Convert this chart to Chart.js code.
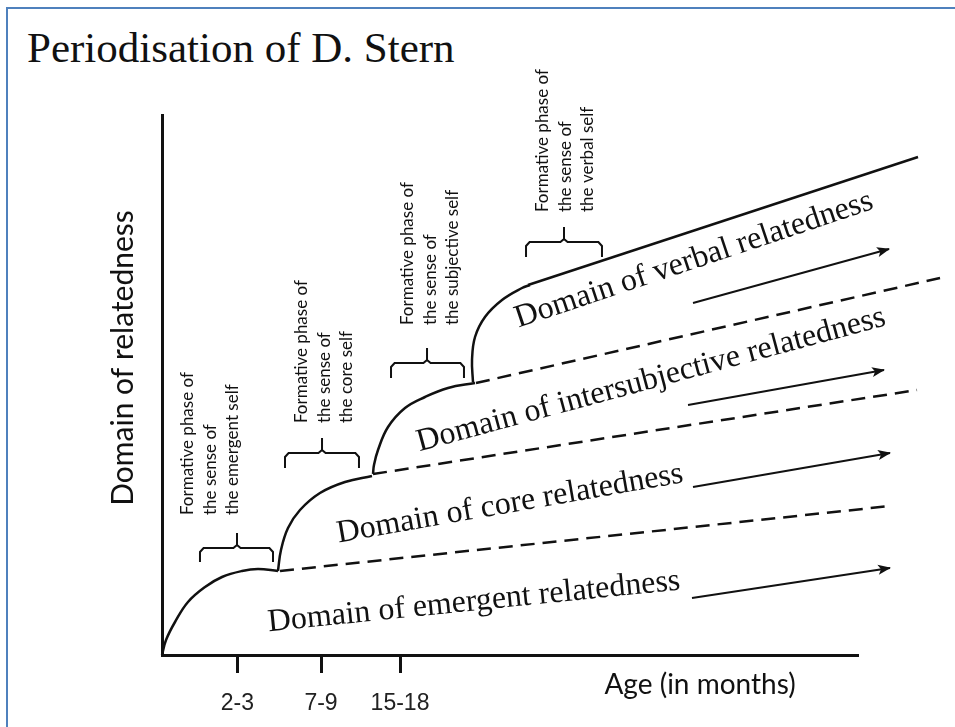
<!DOCTYPE html>
<html lang="en">
<head>
<meta charset="UTF-8">
<title>Periodisation of D. Stern</title>
<script src="https://cdn.jsdelivr.net/npm/chart.js"></script>
<style>
    body { margin: 0; background: #fff; }
    .frame {
        position: absolute; left: 6px; top: 7px; right: 0; bottom: 0;
        border-left: 2px solid #4f81bd; border-top: 2px solid #4f81bd;
    }
    h1 {
        position: absolute; left: 27px; top: 26px; margin: 0;
        font-family: 'Liberation Serif', serif; font-weight: normal;
        font-size: 43px; line-height: 1; color: #111;
    }
    canvas { position: absolute; left: 0; top: 0; }
</style>
</head>
<body>
<div class="frame"></div>
<h1>Periodisation of D. Stern</h1>
<canvas id="stern" width="955" height="727"></canvas>

<script>
// x = position on the age axis (0-116), y = level of relatedness (0-108)
const ageTicks = [12.55, 26.5, 39.67];
const ageLabels = ['2-3', '7-9', '15-18'];

// formative curves (solid)
const emergentCurve = [[0, 0], [0.67, 3], [2.17, 6.6], [4.33, 10.6], [7.17, 13.6], [10, 15.6], [13.33, 16.8], [16, 17.2], [19.33, 16.8]];
const coreCurve = [[19.33, 16.8], [19.83, 21], [21, 25.4], [23, 29], [26.33, 32.4], [30.5, 34.6], [35, 35.8]];
const subjectiveCurve = [[35.17, 36.2], [35.33, 38], [36, 41], [37.67, 45.6], [40.5, 49.4], [43.83, 51.6], [47.67, 53.4], [52.17, 54.4]];
const verbalCurve = [[51.83, 54.6], [51.67, 59], [52.17, 63.6], [53.83, 67.6], [56.67, 71], [60, 73.4], [61.33, 74]];
const verbalLine = [[61, 74], [126, 99.6]];

// continuing domains (dashed)
const emergentDash = [[19.67, 16.8], [121.33, 29.8]];
const coreDash = [[35.17, 36.2], [125.83, 53]];
const subjectiveDash = [[52.33, 54.4], [129.67, 75.4]];

// arrows: tail, tip
const arrows = [
    [[88.33, 11.4], [121.33, 17.4]],
    [[88.5, 33.6], [121.33, 40.4]],
    [[87.67, 50], [120.33, 57]],
    [[88.5, 70.4], [121.17, 81.2]]
];

// braces: left, centre, right, top, bottom, nub
const braces = [
    [6.33, 12.5, 18.5, 21.4, 18.6, 24.4],
    [20.5, 26.67, 32.83, 40.4, 37.4, 43.4],
    [38.17, 44.17, 50.33, 58.4, 55.4, 61.4],
    [60.67, 67, 73.33, 82.6, 79.6, 85.6]
];

const phaseAnchors = [[4.33, 28], [23.33, 46.4], [41, 66], [63.5, 88.6]];
const phaseText = [
    ['Formative phase of', 'the sense of', 'the emergent self'],
    ['Formative phase of', 'the sense of', 'the core self'],
    ['Formative phase of', 'the sense of', 'the subjective self'],
    ['Formative phase of', 'the sense of', 'the verbal self']
];

const domainNames = ['Domain of emergent relatedness', 'Domain of core relatedness',
    'Domain of intersubjective relatedness', 'Domain of verbal relatedness'];
const domainAnchors = [[52, 10.6], [58, 30.2], [81.5, 55], [88.67, 79]];
const domainAngles = [-5.8, -9.9, -15.1, -18.5];

const toPts = arr => arr.map(p => ({ x: p[0], y: p[1] }));

function curve(points, extra) {
    return Object.assign({
        data: toPts(points), showLine: true, borderColor: '#111', borderWidth: 2.5,
        pointRadius: 0, tension: 0.4, clip: false
    }, extra || {});
}

function bracePoints(b) {
    const [l, c, r, top, bot, nub] = b;
    return [[l, bot], [l, top - 0.8], [l + 0.6, top], [c - 0.6, top], [c, top + 0.6], [c, nub],
        [c, top + 0.6], [c + 0.6, top], [r - 0.6, top], [r, top - 0.8], [r, bot]];
}

const datasets = [
    curve(emergentCurve), curve(coreCurve), curve(subjectiveCurve), curve(verbalCurve),
    curve(verbalLine, { tension: 0 }),
    curve(emergentDash, { tension: 0, borderDash: [14, 8] }),
    curve(coreDash, { tension: 0, borderDash: [14, 8] }),
    curve(subjectiveDash, { tension: 0, borderDash: [14, 8] })
];
braces.forEach(b => datasets.push(curve(bracePoints(b), { tension: 0, borderWidth: 2 })));
arrows.forEach(a => datasets.push(curve(a, { tension: 0, borderWidth: 2 })));

// arrowheads, captions, domain names and axis titles
const notes = {
    id: 'notes',
    afterDatasetsDraw(chart) {
        const { ctx, scales: { x, y } } = chart;
        ctx.save();
        ctx.fillStyle = '#111';

        arrows.forEach(a => {
            const x0 = x.getPixelForValue(a[0][0]), y0 = y.getPixelForValue(a[0][1]);
            const x1 = x.getPixelForValue(a[1][0]), y1 = y.getPixelForValue(a[1][1]);
            ctx.save();
            ctx.translate(x1, y1);
            ctx.rotate(Math.atan2(y1 - y0, x1 - x0));
            ctx.beginPath();
            ctx.moveTo(1, 0);
            ctx.lineTo(-12, -5);
            ctx.lineTo(-9, 0);
            ctx.lineTo(-12, 5);
            ctx.closePath();
            ctx.fill();
            ctx.restore();
        });

        ctx.textBaseline = 'middle';
        ctx.font = '17px Lato';
        ctx.textAlign = 'left';
        phaseAnchors.forEach((a, i) => {
            const px = x.getPixelForValue(a[0]), py = y.getPixelForValue(a[1]);
            phaseText[i].forEach((line, j) => {
                ctx.save();
                ctx.translate(px + j * 22.5, py);
                ctx.rotate(-Math.PI / 2);
                ctx.fillText(line, 0, 0);
                ctx.restore();
            });
        });

        ctx.font = '32px "Liberation Serif"';
        ctx.textAlign = 'center';
        domainNames.forEach((name, i) => {
            ctx.save();
            ctx.translate(x.getPixelForValue(domainAnchors[i][0]), y.getPixelForValue(domainAnchors[i][1]));
            ctx.rotate(domainAngles[i] * Math.PI / 180);
            ctx.fillText(name, 0, 0);
            ctx.restore();
        });

        ctx.font = '30px Lato';
        ctx.save();
        ctx.translate(x.getPixelForValue(-6.5), y.getPixelForValue(59.4));
        ctx.rotate(-Math.PI / 2);
        ctx.fillText('Domain of relatedness', 0, 0);
        ctx.restore();

        ctx.font = '28px Lato';
        ctx.fillText('Age (in months)', x.getPixelForValue(89.67), y.getPixelForValue(-6));
        ctx.restore();
    }
};

new Chart(document.getElementById('stern'), {
    type: 'scatter',
    data: { datasets },
    options: {
        responsive: false,
        animation: false,
        layout: { padding: { left: 0, right: 97, top: 115, bottom: 0 } },
        plugins: { legend: { display: false }, tooltip: { enabled: false } },
        scales: {
            x: {
                min: 0, max: 116,
                afterFit: s => { s.height = 72; },
                afterBuildTicks: s => { s.ticks = ageTicks.map(v => ({ value: v })); },
                ticks: {
                    autoSkip: false, padding: 17, color: '#222',
                    font: { family: 'Liberation Sans', size: 23 },
                    callback: (v, i) => ageLabels[i]
                },
                grid: { drawOnChartArea: false, tickLength: 18, tickWidth: 3, tickColor: '#111' },
                border: { color: '#111', width: 3 }
            },
            y: {
                min: 0, max: 108,
                afterFit: s => { s.width = 162; },
                ticks: { display: false },
                grid: { drawOnChartArea: false, drawTicks: false },
                border: { color: '#111', width: 3 }
            }
        }
    },
    plugins: [notes]
});
</script>
</body>
</html>
